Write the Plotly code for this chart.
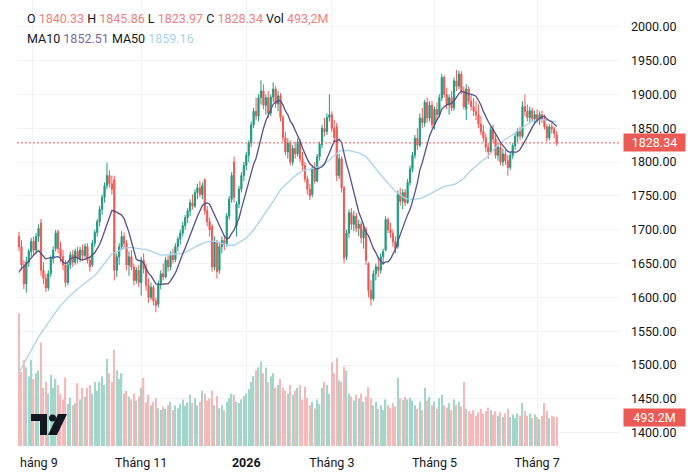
import plotly.graph_objects as go
import pandas as pd

# ---------------- data ----------------
opens = [1690,1675,1648,1620,1652,1668,1683,1670,1690,1710,
 1640,1628,1614,1635,1657,1672,1697,1672,1660,1648,
 1622,1648,1663,1652,1668,1657,1670,1662,1675,1655,
 1648,1680,1696,1712,1730,1748,1765,1780,1768,1774,
 1640,1660,1675,1690,1680,1648,1660,1645,1625,1640,
 1622,1655,1642,1618,1600,1615,1595,1590,1620,1635,
 1630,1655,1645,1662,1656,1675,1686,1695,1706,1718,
 1728,1740,1735,1755,1762,1752,1774,1728,1712,1705,
 1645,1682,1640,1675,1684,1678,1720,1745,1800,1705,
 1738,1760,1780,1795,1810,1828,1855,1875,1868,1895,
 1905,1884,1895,1872,1896,1908,1886,1898,1866,1836,
 1815,1828,1800,1820,1812,1830,1805,1795,1775,1760,
 1752,1790,1772,1808,1826,1850,1845,1866,1870,1850,
 1852,1780,1805,1762,1660,1695,1725,1708,1720,1702,
 1708,1688,1700,1650,1610,1598,1635,1645,1640,1660,
 1670,1715,1700,1695,1682,1675,1752,1742,1755,1740,
 1770,1790,1810,1835,1825,1865,1858,1888,1865,1884,
 1855,1878,1870,1895,1925,1900,1885,1895,1880,1920,
 1912,1930,1905,1878,1908,1890,1882,1875,1870,1856,
 1845,1836,1822,1815,1848,1834,1810,1822,1800,1812,
 1802,1792,1810,1824,1838,1845,1838,1882,1875,1866,
 1876,1864,1870,1862,1870,1864,1852,1836,1852,1849,
 1840.33]
highs = [1697,1685,1655,1660,1672,1688,1690,1695,1708,1716,
 1652,1635,1640,1662,1675,1700,1700,1682,1670,1655,
 1652,1668,1670,1672,1675,1675,1678,1680,1680,1660,
 1685,1700,1716,1735,1752,1770,1799,1788,1780,1780,
 1665,1680,1698,1696,1685,1668,1670,1650,1645,1648,
 1660,1665,1650,1628,1622,1618,1600,1625,1640,1650,
 1660,1662,1668,1672,1680,1690,1700,1712,1722,1732,
 1745,1752,1760,1768,1772,1770,1776,1735,1718,1708,
 1690,1685,1680,1690,1692,1725,1750,1785,1808,1742,
 1765,1785,1800,1815,1832,1860,1880,1895,1900,1921,
 1915,1900,1905,1900,1918,1912,1905,1902,1870,1845,
 1835,1832,1825,1830,1835,1834,1815,1800,1780,1768,
 1795,1800,1812,1830,1855,1865,1872,1900,1875,1862,
 1858,1812,1808,1765,1700,1730,1732,1728,1725,1715,
 1712,1710,1704,1652,1625,1640,1650,1660,1665,1672,
 1720,1718,1710,1700,1690,1758,1762,1760,1760,1775,
 1795,1815,1840,1850,1872,1880,1892,1895,1890,1890,
 1882,1888,1900,1930,1928,1910,1900,1905,1925,1936,
 1935,1934,1912,1915,1912,1900,1895,1890,1885,1868,
 1855,1842,1828,1852,1855,1840,1828,1828,1820,1818,
 1810,1815,1828,1842,1850,1852,1890,1900,1885,1882,
 1880,1876,1878,1875,1876,1870,1856,1856,1858,1852,
 1845.86]
lows = [1668,1640,1612,1607,1645,1660,1662,1665,1682,1632,
 1620,1608,1610,1630,1650,1668,1665,1652,1640,1615,
 1618,1642,1645,1648,1650,1652,1655,1658,1650,1638,
 1645,1675,1690,1705,1722,1740,1760,1762,1752,1625,
 1630,1648,1670,1672,1640,1632,1640,1618,1620,1615,
 1603,1635,1610,1592,1596,1588,1578,1585,1612,1625,
 1628,1638,1640,1650,1652,1668,1678,1690,1700,1710,
 1720,1730,1732,1745,1748,1745,1722,1705,1690,1638,
 1640,1628,1635,1665,1670,1675,1715,1740,1740,1690,
 1732,1755,1772,1788,1800,1822,1850,1862,1860,1885,
 1878,1870,1865,1868,1888,1880,1875,1860,1830,1810,
 1805,1795,1795,1805,1808,1800,1788,1770,1752,1744,
 1748,1768,1770,1802,1820,1838,1840,1860,1845,1828,
 1772,1775,1755,1650,1655,1688,1700,1698,1696,1690,
 1680,1672,1648,1600,1588,1595,1625,1630,1635,1648,
 1668,1695,1688,1675,1665,1672,1735,1730,1735,1738,
 1765,1785,1805,1818,1822,1850,1852,1858,1860,1850,
 1848,1862,1866,1890,1895,1878,1870,1875,1876,1905,
 1908,1900,1878,1862,1885,1876,1868,1862,1850,1840,
 1830,1815,1805,1812,1828,1805,1802,1795,1794,1796,
 1780,1788,1805,1818,1830,1832,1835,1868,1860,1858,
 1860,1856,1858,1855,1858,1848,1830,1832,1842,1835,
 1823.97]
closes = [1675,1648,1620,1652,1668,1683,1670,1690,1702,1640,
 1628,1614,1635,1657,1670,1695,1672,1660,1648,1622,
 1648,1663,1652,1668,1657,1670,1662,1675,1655,1645,
 1680,1696,1712,1730,1748,1765,1780,1768,1760,1640,
 1660,1675,1690,1680,1648,1660,1645,1625,1640,1622,
 1655,1642,1618,1600,1615,1595,1588,1620,1635,1630,
 1655,1645,1662,1656,1675,1686,1695,1706,1718,1728,
 1740,1735,1755,1762,1752,1765,1728,1712,1700,1645,
 1682,1638,1675,1684,1678,1720,1745,1780,1748,1738,
 1760,1780,1795,1810,1828,1855,1875,1868,1895,1905,
 1884,1895,1872,1896,1908,1886,1898,1866,1836,1815,
 1828,1800,1820,1812,1830,1805,1795,1775,1760,1750,
 1790,1772,1808,1826,1850,1845,1866,1870,1850,1836,
 1780,1805,1762,1658,1695,1725,1708,1720,1702,1708,
 1688,1700,1655,1610,1598,1635,1645,1640,1660,1668,
 1715,1700,1695,1682,1672,1752,1742,1755,1740,1770,
 1790,1810,1835,1825,1865,1858,1888,1865,1884,1855,
 1878,1870,1895,1925,1900,1885,1895,1880,1920,1912,
 1930,1905,1882,1908,1890,1882,1875,1870,1856,1845,
 1836,1822,1815,1848,1834,1810,1822,1800,1812,1802,
 1792,1810,1824,1838,1845,1838,1882,1875,1866,1876,
 1864,1870,1862,1870,1864,1852,1836,1852,1849,1842,
 1828.34]
# closes before the visible window (only feed the moving averages)
pre_closes = [1335,1330,1338,1325,1332,1342,1350,1360,1368,1375,
 1382,1390,1395,1402,1408,1415,1430,1440,1455,1460,
 1475,1490,1500,1515,1510,1520,1530,1525,1518,1535,
 1540,1525,1500,1485,1510,1530,1548,1560,1570,1578,
 1585,1598,1610,1620,1632,1640,1655,1668,1685]
volumes = [2280,1270,1480,1350,1200,1480,1150,1250,1300,1780,
 1000,1100,900,1220,1000,1150,1050,900,800,1180,
 720,830,700,740,1080,800,1000,850,1000,1050,
 900,1100,950,1100,1200,1050,1500,1250,1100,1650,
 1300,1150,1250,900,950,850,800,900,780,850,
 1000,1170,750,880,700,760,820,650,620,680,
 640,700,760,620,700,650,720,800,690,750,
 880,740,820,700,760,950,900,780,820,950,
 700,860,650,700,620,760,820,900,880,760,
 740,800,860,900,980,1100,1200,1300,1350,1450,
 1250,1350,1100,1200,1250,1000,1050,1150,1000,950,
 900,1050,880,950,1000,1050,800,1020,820,700,
 760,650,800,720,1000,1100,1050,900,1440,1250,
 1510,1130,1100,1360,1300,900,850,780,880,820,
 900,760,850,1010,820,700,760,640,700,620,
 800,700,650,740,680,1170,820,790,840,800,
 830,780,700,640,760,620,1000,780,840,700,
 760,640,820,880,700,660,740,620,800,700,
 760,680,1100,640,600,560,620,520,580,640,
 560,600,660,620,540,600,520,580,500,560,
 640,500,540,480,560,520,740,600,520,560,
 480,540,500,460,520,740,600,480,520,500,
 493.2]
month_ticks = [5.5, 50, 93, 128, 170, 212]
month_labels = ["", "Tháng 11", "<b>2026</b>", "Tháng 3", "Tháng 5", "Tháng 7"]
price_ticks = [1400, 1450, 1500, 1550, 1600, 1650, 1700, 1750, 1800, 1850, 1900, 1950, 2000]

# ---------------- derived ----------------
n = len(closes)
idx = list(range(n))
allc = pd.Series(pre_closes + closes)
ma10 = allc.rolling(10).mean().tolist()[len(pre_closes):]
ma50 = allc.rolling(50).mean().tolist()[len(pre_closes):]

UP = "#1f9a80"
DN = "#ec5a55"
VUP = "#a3d6cb"
VDN = "#f6b9b9"
vol_colors = [VUP if c >= o else VDN for o, c in zip(opens, closes)]

FONT = "Roboto"
TXT = "#131722"

# pixel geometry
W, H = 700, 473
L, R, T, B = 17, 80, 0, 26
PW, PH = W - L - R, H - T - B

def px(xp, yp):
    return (xp - L) / PW, (H - B - yp) / PH

fig = go.Figure()
fig.add_trace(go.Bar(x=idx, y=volumes, marker=dict(color=vol_colors, line=dict(width=0)),
                     width=0.55, xaxis="x", yaxis="y", hoverinfo="skip"))
fig.add_trace(go.Candlestick(x=idx, open=opens, high=highs, low=lows, close=closes,
                             xaxis="x", yaxis="y2", whiskerwidth=0,
                             increasing=dict(line=dict(color=UP, width=1), fillcolor=UP),
                             decreasing=dict(line=dict(color=DN, width=1), fillcolor=DN)))
fig.add_trace(go.Scatter(x=idx, y=ma50, mode="lines", xaxis="x", yaxis="y2",
                         line=dict(color="#a9d3ec", width=1.3)))
fig.add_trace(go.Scatter(x=idx, y=ma10, mode="lines", xaxis="x", yaxis="y2",
                         line=dict(color="#55508a", width=1.3)))

x0 = (L - 19) / 2.444
x1 = (L + PW - 19) / 2.444
fig.update_layout(
    width=W, height=H, margin=dict(l=L, r=R, t=T, b=B),
    paper_bgcolor="white", plot_bgcolor="white", showlegend=False,
    font=dict(family=FONT, size=12.5, color=TXT),
    xaxis=dict(range=[x0, x1], tickvals=month_ticks, ticktext=month_labels,
               showgrid=True, gridcolor="#f1f3f7", gridwidth=1, zeroline=False,
               showline=False, ticks="", rangeslider=dict(visible=False),
               tickfont=dict(size=12.5, color=TXT), ticklabelstandoff=6),
    yaxis=dict(range=[-17.2, 7662], visible=False, showgrid=False, zeroline=False),
    yaxis2=dict(overlaying="y", side="right", range=[1378.9, 2039.5],
                tickvals=price_ticks, ticktext=[f"{v:.2f}" for v in price_ticks],
                showgrid=True, gridcolor="#f1f3f7", gridwidth=1, zeroline=False,
                showline=False, ticks="", ticklabelstandoff=10,
                tickfont=dict(size=12.5, color=TXT)),
)

# last price line
fig.add_shape(type="line", xref="paper", x0=0, x1=1, yref="y2", y0=closes[-1], y1=closes[-1],
              line=dict(color=DN, width=1, dash="2px,2px"))

# price & volume labels on the scale
lx = (623 - L) / PW
fig.add_annotation(xref="paper", yref="y2", x=lx, y=closes[-1], xanchor="left", yanchor="middle",
                   text=f"{closes[-1]:.2f}", showarrow=False, width=61, height=17,
                   bgcolor="#ec5a55", borderpad=0, font=dict(color="white", size=12.5, family=FONT))
fig.add_annotation(xref="paper", yref="y", x=lx, y=volumes[-1], xanchor="left", yanchor="middle",
                   text="493.2M", showarrow=False, width=61, height=17,
                   bgcolor="#ec5a55", borderpad=0, font=dict(color="white", size=12.5, family=FONT))

# clipped first month label
ax, ay = px(18, 462)
fig.add_annotation(xref="paper", yref="paper", x=ax, y=ay, xanchor="left", yanchor="middle",
                   text="háng 9", showarrow=False, font=dict(size=12.5, color=TXT, family=FONT))

# legend lines
RV = "#ef8080"
def sp(t, c):
    return f"<span style='color:{c}'>{t}</span>"
line1 = ("O " + sp("1840.33", RV) + " H " + sp("1845.86", RV) + " L " + sp("1823.97", RV)
         + " C " + sp("1828.34", RV) + " Vol " + sp("493,2M", RV))
line2 = "MA10 " + sp("1852.51", "#7a6aa8") + " MA50 " + sp("1859.16", "#a9d3ec")
for txt, yp in [(line1, 19), (line2, 39)]:
    ax, ay = px(25, yp)
    fig.add_annotation(xref="paper", yref="paper", x=ax, y=ay, xanchor="left", yanchor="middle",
                       text=txt, showarrow=False, font=dict(size=12.5, color=TXT, family=FONT))

# TradingView logo
def path(pts):
    s = ""
    for i, (a, b) in enumerate(pts):
        u, v = px(a, b)
        s += ("M" if i == 0 else "L") + f"{u:.5f},{v:.5f} "
    return s + "Z"
fig.add_shape(type="path", xref="paper", yref="paper",
              path=path([(31, 414), (47, 414), (47, 435), (40, 435), (40, 421), (31, 421)]),
              fillcolor="#131722", line=dict(width=0))
c0 = px(49, 414.5); c1 = px(56, 421.5)
fig.add_shape(type="circle", xref="paper", yref="paper", x0=c0[0], x1=c1[0], y0=c1[1], y1=c0[1],
              fillcolor="#131722", line=dict(width=0))
fig.add_shape(type="path", xref="paper", yref="paper",
              path=path([(58, 414), (67, 414), (57, 435), (48, 435)]),
              fillcolor="#131722", line=dict(width=0))

fig.write_html("out.html")
